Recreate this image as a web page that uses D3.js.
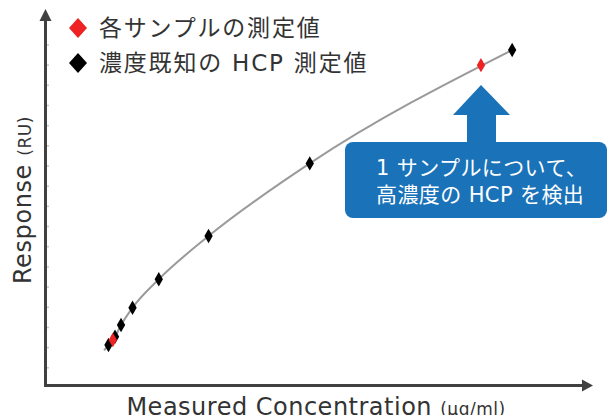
<!DOCTYPE html>
<html>
<head>
<meta charset="utf-8">
<script src="https://cdn.jsdelivr.net/npm/d3@7"></script>
<style>
  body { margin: 0; background: #fff; }
  svg { display: block; font-family: "DejaVu Sans", "Noto Sans CJK JP", sans-serif; }
</style>
</head>
<body>
<svg id="chart"></svg>
<script>
// values (arbitrary units, axes have no numbers)
var stdConc = [11.6, 12.8, 13.9, 16.0, 20.8, 29.9, 48.4, 85.4];
var stdResp = [2.13, 2.54, 3.12, 3.98, 5.39, 7.53, 11.13, 16.75];
var sampleConc = [12.4, 79.7];
var sampleResp = [2.38, 16.0];
var fitConc = [10.8, 11.6, 12.8, 13.9, 16.0, 20.8, 29.9, 48.4, 85.4];
var fitResp = [1.86, 2.13, 2.54, 3.12, 3.98, 5.39, 7.53, 11.13, 16.75];
var yTicks = d3.range(1, 18);
var legendLabels = ["各サンプルの測定値", "濃度既知の HCP 測定値"];
var legendColors = ["#ee2222", "#000000"];
var calloutLines = ["1 サンプルについて、", "高濃度の HCP を検出"];

var width = 610, height = 415;
var svg = d3.select("#chart").attr("width", width).attr("height", height);

var x = d3.scaleLinear().domain([0, 100]).range([45, 592]);
var y = d3.scaleLinear().domain([0, 18.5]).range([388, 14.7]);

// minor ticks on y axis
svg.selectAll(".ytick")
   .data(yTicks)
   .enter()
   .append("line")
   .attr("x1", 46).attr("x2", 49)
   .attr("y1", function(d){ return y(d); })
   .attr("y2", function(d){ return y(d); })
   .attr("stroke", "#c8c8c8")
   .attr("stroke-width", 1.5);

// axes with arrows
svg.append("line")
   .attr("x1", 45.5).attr("x2", 45.5).attr("y1", 387).attr("y2", 20)
   .attr("stroke", "#404040").attr("stroke-width", 3);
svg.append("path")
   .attr("d", "M39.5,21 L45.5,9 L51.5,21 Z")
   .attr("fill", "#404040");
svg.append("line")
   .attr("x1", 44).attr("x2", 583).attr("y1", 385.5).attr("y2", 385.5)
   .attr("stroke", "#404040").attr("stroke-width", 3);
svg.append("path")
   .attr("d", "M582,379.5 L593,385.5 L582,391.5 Z")
   .attr("fill", "#404040");

// fitted curve
var fitData = fitConc.map(function(c, i){ return [c, fitResp[i]]; });
var line = d3.line()
             .x(function(d){ return x(d[0]); })
             .y(function(d){ return y(d[1]); })
             .curve(d3.curveMonotoneX);
svg.append("path")
   .datum(fitData)
   .attr("d", line)
   .attr("fill", "none")
   .attr("stroke", "#9a9a9a")
   .attr("stroke-width", 2);

var diamond = d3.symbol().type(d3.symbolDiamond).size(60);

svg.selectAll(".std")
   .data(stdConc)
   .enter()
   .append("path")
   .attr("d", diamond)
   .attr("transform", function(d, i){ return "translate(" + x(d) + "," + y(stdResp[i]) + ")"; })
   .attr("fill", "#000");

svg.selectAll(".sample")
   .data(sampleConc)
   .enter()
   .append("path")
   .attr("d", diamond)
   .attr("transform", function(d, i){ return "translate(" + x(d) + "," + y(sampleResp[i]) + ")"; })
   .attr("fill", "#ee2222");

// legend
var legend = svg.selectAll(".legend")
                .data(legendLabels)
                .enter()
                .append("g")
                .attr("transform", function(d, i){ return "translate(78," + (28 + i * 35) + ")"; });
legend.append("path")
      .attr("d", "M0,-10 L9,0 L0,10 L-9,0 Z")
      .attr("fill", function(d, i){ return legendColors[i]; });
legend.append("text")
      .attr("x", 21)
      .attr("y", 8)
      .attr("font-size", 23)
      .attr("letter-spacing", 1.8)
      .attr("fill", "#333")
      .text(function(d){ return d; });

// axis titles
var yt = svg.append("text")
            .attr("transform", "translate(31,200) rotate(-90)")
            .attr("text-anchor", "middle")
            .attr("letter-spacing", 0.6)
            .attr("fill", "#333");
yt.append("tspan").attr("font-size", 24).text("Response ");
yt.append("tspan").attr("font-size", 17).text("(RU)");

var xt = svg.append("text")
            .attr("x", 316)
            .attr("y", 415)
            .attr("text-anchor", "middle")
            .attr("letter-spacing", 0.5)
            .attr("fill", "#333");
xt.append("tspan").attr("font-size", 24).text("Measured Concentration ");
xt.append("tspan").attr("font-size", 17).text("(µg/ml)");

// callout
var blue = "#1a72b8";
svg.append("path")
   .attr("d", "M453,115 L481,85 L510,115 L496,115 L496,143 L467,143 L467,115 Z")
   .attr("fill", blue);
svg.append("rect")
   .attr("x", 345).attr("y", 142).attr("width", 262).attr("height", 76)
   .attr("rx", 8)
   .attr("fill", blue);
svg.selectAll(".callout")
   .data(calloutLines)
   .enter()
   .append("text")
   .attr("x", 376)
   .attr("y", function(d, i){ return 175 + i * 27; })
   .attr("font-size", 21)
   .attr("letter-spacing", 0.4)
   .attr("fill", "#fff")
   .text(function(d){ return d; });
</script>
</body>
</html>
